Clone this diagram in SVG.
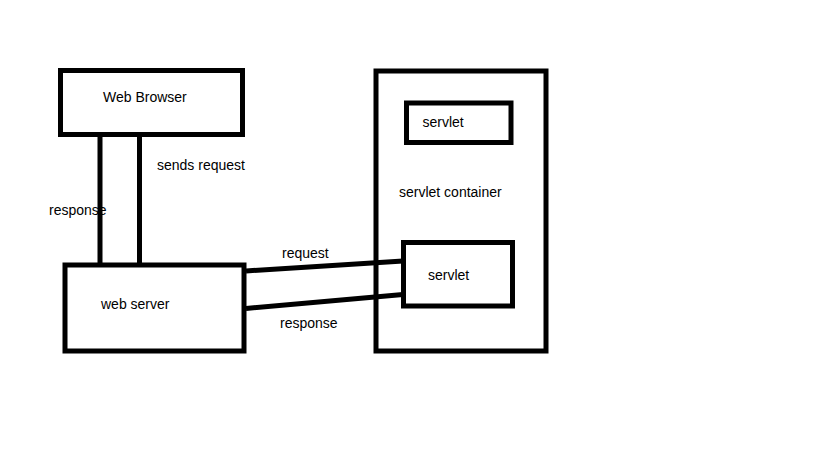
<svg xmlns="http://www.w3.org/2000/svg" width="819" height="460" viewBox="0 0 819 460">
<style>
.box{fill:#fff;stroke:#000;stroke-width:5}
.ln{stroke:#000;stroke-width:5;fill:none}
text{font-family:"Liberation Sans",Arial,sans-serif;font-size:14px;fill:#000}
</style>
<rect width="819" height="460" fill="#fff"/>
<g id="servlet-container">
<rect class="box" x="376" y="71" width="170" height="280"/>
<text x="399" y="197">servlet container</text>
</g>
<g id="connectors">
<line class="ln" x1="100" y1="132" x2="100" y2="264"/>
<line class="ln" x1="139.5" y1="136" x2="139.5" y2="264"/>
<line class="ln" x1="246" y1="271" x2="403" y2="261"/>
<line class="ln" x1="246" y1="308.5" x2="403" y2="294.5"/>
<text x="157" y="170">sends request</text>
<text x="49" y="215">response</text>
<text x="282" y="258">request</text>
<text x="280" y="328">response</text>
</g>
<g id="web-browser">
<rect class="box" x="60.5" y="70.5" width="182" height="64"/>
<text x="103" y="102">Web Browser</text>
</g>
<g id="web-server">
<rect class="box" x="65" y="265" width="179" height="86"/>
<text x="101" y="309">web server</text>
</g>
<g id="servlet-top">
<rect class="box" x="406.5" y="103" width="104.5" height="39.5"/>
<text x="422.5" y="127">servlet</text>
</g>
<g id="servlet-bottom">
<rect class="box" x="403.5" y="242.5" width="109" height="63.5"/>
<text x="428" y="280">servlet</text>
</g>
</svg>
